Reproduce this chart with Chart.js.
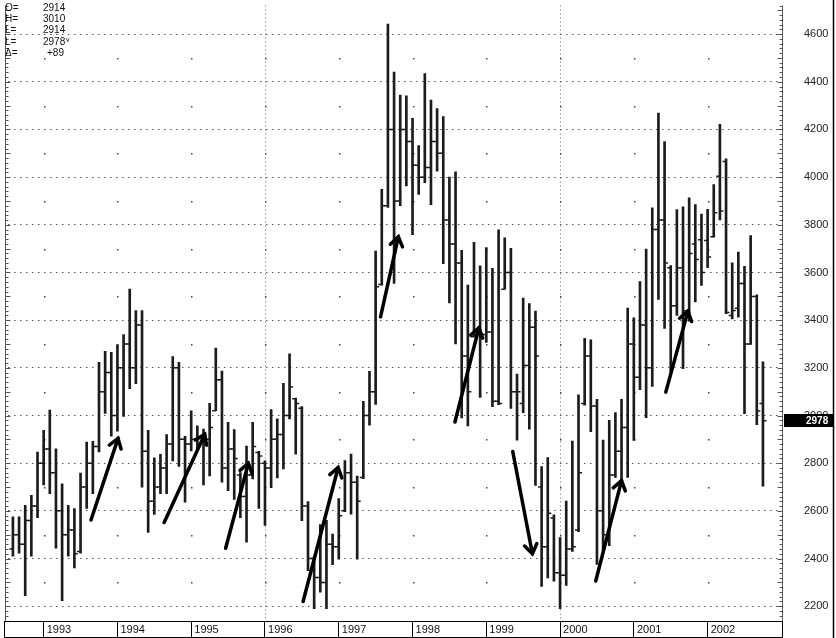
<!DOCTYPE html>
<html>
<head>
<meta charset="utf-8">
<title>Monthly bars 1992-2002</title>
<script src="https://cdn.jsdelivr.net/npm/chart.js@4/dist/chart.umd.min.js"></script>
<style>
  html, body { margin: 0; padding: 0; background: #fff; }
  #c { display: block; }
</style>
</head>
<body>
<canvas id="c" width="836" height="638"></canvas>
<script>
// ============================================================
// Data  (monthly bars, Aug 1992 .. Oct 2002; month 0 = Jan 1993)
// ============================================================

const firstMonth = -5;

const opens = [
  2440, 2500, 2460, 2560, 2620, 2800, 2860, 2760, 2600, 2500, 2520, 2430,
  2700, 2800, 2870, 3100, 3180, 3000, 3200, 3300, 3200, 3380, 2850, 2640,
  2700, 2780, 2880, 3200, 2900, 2880, 2900, 2910, 2900, 3020, 3150, 2780,
  2860, 2750, 2660, 2750, 2845, 2800, 2780, 2900, 2920, 3000, 3070, 3030,
  2620, 2400, 2320, 2300, 2460, 2450, 2600, 2760, 2720, 2740, 3000, 3100,
  3550, 3880, 4200, 3900, 4200, 4150, 4050, 4000, 4040, 4150, 4100, 3820,
  3720, 3640, 3250, 3330, 3340, 3340, 3350, 3060, 3530, 3600, 3100, 3050,
  3210, 3370, 2700, 2450, 2570, 2340, 2330, 2440, 2520, 3050, 3250, 3040,
  2600, 2500, 2750, 2850, 2950, 3300, 3160, 3380, 3200, 3780, 3820, 3620,
  3460, 3620, 3440, 3720, 3737, 3734, 3750, 4004, 4066, 3420, 3450, 3554,
  3300, 3499, 3050
];
const highs = [
  2575, 2575, 2623, 2665, 2847, 2938, 3023, 2860, 2713, 2623, 2610, 2758,
  2889, 2892, 3223, 3269, 3265, 3296, 3340, 3530, 3440, 3440, 2938, 2823,
  2837, 2920, 3247, 3223, 2913, 3020, 2957, 2943, 3051, 3283, 3186, 2971,
  2941, 2761, 2872, 2971, 2850, 2810, 3025, 2986, 3135, 3259, 3073, 3038,
  2639, 2407, 2542, 2560, 2503, 2652, 2811, 2838, 2746, 3059, 3185, 3690,
  3949, 4642, 4441, 4344, 4341, 4247, 4132, 4434, 4323, 4288, 4254, 4000,
  4022, 3693, 3547, 3727, 3628, 3704, 3617, 3779, 3745, 3701, 3174, 3493,
  3470, 3438, 2786, 2824, 2583, 2488, 2641, 2893, 3087, 3324, 3317, 3068,
  2897, 2980, 3012, 3068, 3451, 3410, 3562, 3698, 3871, 4269, 4149, 3629,
  3864, 3875, 3913, 3885, 3845, 3865, 3969, 4221, 4077, 3640, 3686, 3626,
  3755, 3506, 3225
];
const lows = [
  2410, 2423, 2244, 2410, 2571, 2709, 2672, 2444, 2223, 2410, 2361, 2423,
  2610, 2672, 2847, 3009, 2913, 2934, 2996, 3113, 3134, 2699, 2510, 2585,
  2672, 2672, 2810, 2786, 2637, 2851, 2851, 2709, 2747, 3020, 2720, 2685,
  2648, 2571, 2469, 2734, 2610, 2539, 2697, 2738, 2776, 2986, 2838, 2559,
  2349, 2190, 2259, 2190, 2374, 2397, 2597, 2586, 2397, 2735, 2960, 3047,
  3547, 3873, 3554, 3880, 3963, 3759, 3928, 3977, 3884, 4025, 3637, 3472,
  3300, 2990, 2956, 3330, 3076, 3307, 3037, 3045, 3530, 3030, 2897, 3012,
  2943, 2707, 2283, 2319, 2305, 2190, 2287, 2430, 2513, 3043, 2932, 2375,
  2433, 2454, 2740, 2700, 2740, 2896, 3108, 2991, 3122, 3487, 3365, 3185,
  3420, 3196, 3396, 3477, 3546, 3620, 3748, 3820, 3427, 3405, 3413, 3008,
  3298, 2962, 2704
];
const closes = [
  2500, 2460, 2560, 2620, 2800, 2860, 2760, 2600, 2500, 2520, 2420, 2700,
  2800, 2870, 3100, 3180, 3000, 3200, 3300, 3200, 3380, 2850, 2640, 2700,
  2780, 2880, 3200, 2900, 2880, 2900, 2910, 2900, 2950, 3150, 2780, 2860,
  2820, 2660, 2750, 2870, 2830, 2780, 2900, 2920, 3000, 3120, 3050, 2620,
  2400, 2320, 2300, 2460, 2450, 2580, 2760, 2720, 2640, 3000, 3100, 3540,
  3880, 4200, 3900, 4200, 4150, 4050, 4000, 4040, 4150, 4100, 3820, 3720,
  3640, 3250, 3100, 3340, 3340, 3350, 3060, 3050, 3600, 3100, 3100, 3210,
  3370, 3250, 2450, 2590, 2340, 2330, 2440, 2450, 2760, 3250, 3040, 2600,
  2500, 2750, 2850, 2950, 3300, 3160, 3380, 3200, 3780, 3820, 3640, 3460,
  3620, 3440, 3680, 3655, 3600, 3665, 3851, 3858, 3432, 3441, 3554, 3300,
  3499, 3019, 2978
];

const yearLabels = ['1993', '1994', '1995', '1996', '1997', '1998', '1999', '2000', '2001', '2002'];
const yearMonths = [0, 12, 24, 36, 48, 60, 72, 84, 96, 108];
const priceTicks = [2200, 2400, 2600, 2800, 3000, 3200, 3400, 3600, 3800, 4000, 4200, 4400, 4600];

// hand-drawn arrows: [month, price] start -> end
const arrowStarts = [[7.7, 2562], [19.6, 2551], [29.6, 2443], [42.2, 2220], [54.8, 3414],
                     [66.9, 2973], [76.3, 2849], [89.8, 2306], [101.2, 3098]];
const arrowEnds   = [[12.1, 2904], [26.2, 2921], [33.3, 2800], [47.9, 2782], [57.7, 3750],
                     [70.8, 3368], [79.5, 2420], [94.0, 2727], [104.8, 3438]];

// header readout
const readoutKeys = ['O=', 'H=', 'L=', 'L=', '\u0394='];
const readoutVals = ['2914', '3010', '2914', '2978', '+89'];

// ============================================================
// Helpers
// ============================================================

const INK = '#1c1c1c';

function drawArrow(ctx, x1, y1, x2, y2) {
  ctx.beginPath();
  ctx.moveTo(x1, y1);
  ctx.lineTo(x2, y2);
  ctx.stroke();
  const a = Math.atan2(y2 - y1, x2 - x1);
  const len = 11;
  ctx.beginPath();
  ctx.moveTo(x2 - len * Math.cos(a - 0.6), y2 - len * Math.sin(a - 0.6));
  ctx.lineTo(x2, y2);
  ctx.lineTo(x2 - len * Math.cos(a + 0.6), y2 - len * Math.sin(a + 0.6));
  ctx.stroke();
}

const extras = {
  id: 'extras',
  beforeDatasetsDraw(chart) {
    const { ctx, chartArea: ca, scales: { x, y } } = chart;
    ctx.save();
    // dotted verticals at 1996 and 2000
    ctx.strokeStyle = '#666';
    ctx.lineWidth = 1;
    ctx.setLineDash([1, 3]);
    [36, 84].forEach(m => {
      const px = Math.round(x.getPixelForValue(m)) + 0.5;
      ctx.beginPath();
      ctx.moveTo(px, ca.top);
      ctx.lineTo(px, ca.bottom);
      ctx.stroke();
    });
    ctx.setLineDash([]);
    // sparse dots at year columns on odd hundreds
    ctx.fillStyle = '#444';
    yearMonths.forEach(m => {
      const px = Math.round(x.getPixelForValue(m));
      for (let v = 2300; v <= 4500; v += 200) {
        ctx.fillRect(px, Math.round(y.getPixelForValue(v)), 1.5, 1.5);
      }
    });
    ctx.restore();
  },
  afterDatasetsDraw(chart) {
    const { ctx, scales: { x, y } } = chart;
    ctx.save();
    ctx.strokeStyle = '#000';
    ctx.lineWidth = 3.5;
    ctx.lineCap = 'round';
    ctx.lineJoin = 'miter';
    arrowStarts.forEach((s, i) => {
      const e = arrowEnds[i];
      drawArrow(ctx, x.getPixelForValue(s[0]), y.getPixelForValue(s[1]),
                x.getPixelForValue(e[0]), y.getPixelForValue(e[1]));
    });
    ctx.restore();
  },
  afterDraw(chart) {
    const { ctx, chartArea: ca, scales: { y } } = chart;
    ctx.save();
    // axis rulers with minor ticks (right and left)
    ctx.strokeStyle = '#555';
    ctx.lineWidth = 1;
    ctx.beginPath();
    ctx.moveTo(ca.right + 0.5, ca.top);
    ctx.lineTo(ca.right + 0.5, ca.bottom);
    ctx.moveTo(ca.left - 2.5, ca.top);
    ctx.lineTo(ca.left - 2.5, ca.bottom);
    for (let v = 2140; v <= 4720; v += 20) {
      const py = Math.round(y.getPixelForValue(v)) + 0.5;
      const len = v % 100 === 0 ? 5 : 3;
      ctx.moveTo(ca.right + 0.5, py);
      ctx.lineTo(ca.right + 0.5 - len, py);
      ctx.moveTo(ca.left - 2.5, py);
      ctx.lineTo(ca.left - 2.5 + len, py);
    }
    ctx.stroke();
    // right frame line
    ctx.strokeStyle = '#000';
    ctx.lineWidth = 1.5;
    ctx.beginPath();
    ctx.moveTo(833.5, 0);
    ctx.lineTo(833.5, 638);
    ctx.stroke();
    // bottom strip box
    ctx.lineWidth = 1;
    ctx.strokeRect(ca.left - 3.5, ca.bottom + 0.5, ca.right - ca.left + 4, 16);
    // last value box
    const last = closes[closes.length - 1];
    const ly = Math.round(y.getPixelForValue(last));
    ctx.fillStyle = '#000';
    ctx.fillRect(ca.right + 2, ly - 7, 833 - ca.right - 2, 13);
    ctx.fillStyle = '#fff';
    ctx.font = 'bold 10px "Liberation Sans", Arial, sans-serif';
    ctx.textBaseline = 'middle';
    ctx.textAlign = 'left';
    ctx.fillText(String(last), 806, ly);
    // readout in the top-left corner
    ctx.fillStyle = '#111';
    ctx.font = '10px "Liberation Sans", Arial, sans-serif';
    readoutKeys.forEach((k, i) => {
      const ty = 8 + i * 11.3;
      ctx.fillText(k, 5, ty);
      ctx.fillText(readoutVals[i], i === 4 ? 47 : 43, ty);
    });
    ctx.font = '7px "Liberation Sans", Arial, sans-serif';
    ctx.fillText('v', 66, 40);
    ctx.restore();
  }
};

// ============================================================
// Chart
// ============================================================

function init() {
  const ctx = document.getElementById('c').getContext('2d');

  new Chart(ctx, {
    type: 'bar',
    data: {
      datasets: [
        {
          type: 'bar',
          data: highs.map((h, i) => ({ x: firstMonth + i, y: [lows[i], h] })),
          backgroundColor: INK,
          barThickness: 2,
          grouped: false,
          order: 2
        },
        {
          type: 'scatter',
          data: opens.map((o, i) => ({ x: firstMonth + i - 0.28, y: o })),
          pointStyle: 'line',
          pointRadius: 1.8,
          borderColor: INK,
          borderWidth: 1.5,
          order: 1
        },
        {
          type: 'scatter',
          data: closes.map((c, i) => ({ x: firstMonth + i + 0.28, y: c })),
          pointStyle: 'line',
          pointRadius: 1.8,
          borderColor: INK,
          borderWidth: 1.5,
          order: 1
        }
      ]
    },
    options: {
      responsive: false,
      animation: false,
      devicePixelRatio: 1,
      events: [],
      layout: { padding: { left: 8, right: 0, top: 0, bottom: 0 } },
      plugins: {
        legend: { display: false },
        tooltip: { enabled: false }
      },
      scales: {
        x: {
          type: 'linear',
          offset: false,
          min: -5.8,
          max: 120.1,
          afterFit(s) {
            s.height = 17;
            s.paddingLeft = 0; s.paddingRight = 0;
          },
          afterBuildTicks(s) { s.ticks = yearMonths.map(v => ({ value: v })); },
          grid: { offset: false, drawOnChartArea: false, drawTicks: true, tickLength: 17, color: '#000', lineWidth: 1 },
          border: { display: false },
          ticks: {
            autoSkip: false,
            maxRotation: 0,
            align: 'start',
            padding: -15,
            color: '#111',
            font: { family: '"Liberation Sans Narrow", "Liberation Sans", Arial, sans-serif', size: 11 },
            callback: (v) => ' ' + yearLabels[yearMonths.indexOf(v)]
          }
        },
        y: {
          position: 'right',
          min: 2138,
          max: 4720,
          afterFit(s) {
            s.width = 54;
            s.paddingTop = 0; s.paddingBottom = 0;
          },
          afterBuildTicks(s) { s.ticks = priceTicks.map(v => ({ value: v })); },
          grid: { drawTicks: false, color: '#555', lineWidth: 1 },
          border: { display: false, dash: [1.5, 4.5] },
          ticks: {
            padding: 22,
            color: '#222',
            font: { family: '"Liberation Sans", Arial, sans-serif', size: 11 },
            callback: (v) => String(v)
          }
        }
      }
    },
    plugins: [extras]
  });
}

document.addEventListener('DOMContentLoaded', init);
</script>
</body>
</html>
